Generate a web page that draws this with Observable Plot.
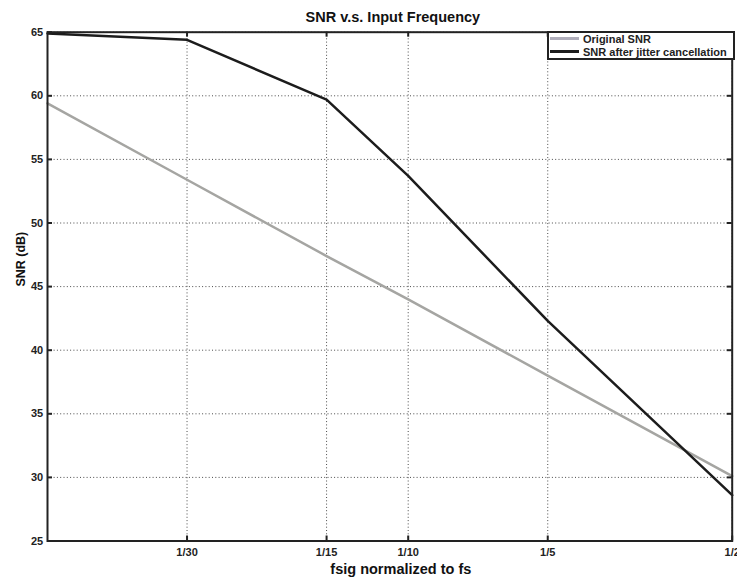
<!DOCTYPE html>
<html>
<head>
<meta charset="utf-8">
<script src="https://cdn.jsdelivr.net/npm/d3@7"></script>
<script src="https://cdn.jsdelivr.net/npm/@observablehq/plot@0.6"></script>
<style>
  html, body { margin: 0; padding: 0; background: #fff; overflow: hidden; }
  #wrap { position: relative; width: 737px; height: 581px; font-family: "Liberation Sans", Arial, sans-serif; }
  #wrap svg { display: block; }
  #legend {
    position: absolute; left: 546.5px; top: 30.5px; width: 184px; height: 25.5px;
    border: 2px solid #222; background: #fff; font-weight: bold; font-size: 11px;
    line-height: 13px; color: #222; white-space: nowrap;
  }
  #legend .row { height: 13px; }
  #legend .sw { display: inline-block; width: 29px; height: 3px; vertical-align: 3px; margin-left: 1.5px; margin-right: 4px; }
</style>
</head>
<body>
<div id="wrap"></div>
<script>
// ---- data ----
const freqs = [1/60, 1/30, 1/15, 1/10, 1/5, 1/2];
const originalSNR = [59.4, 53.4, 47.4, 44.0, 38.0, 30.1];
const cancelledSNR = [64.9, 64.4, 59.7, 53.7, 42.3, 28.6];
const seriesNames = ["Original SNR", "SNR after jitter cancellation"];
const seriesColors = ["#a5a5a2", "#1c1c1c"];
const legendSwatchColors = ["#b0aebb", "#1c1c1c"];
const xTickValues = [1/30, 1/15, 1/10, 1/5, 1/2];
const xTickLabels = ["1/30", "1/15", "1/10", "1/5", "1/2"];
const yTickValues = [25, 30, 35, 40, 45, 50, 55, 60, 65];
const titleText = "SNR v.s. Input Frequency";
const xLabelText = "fsig normalized to fs";
const yLabelText = "SNR (dB)";

// ---- layout ----
const W = 737, H = 581;
const mL = 47, mR = 5.3, mT = 31.7, mB = 40.5;
const innerW = W - mL - mR, innerH = H - mT - mB;
const tickLen = 5;

const rows = freqs.flatMap((f, i) => [
  {f, snr: originalSNR[i], series: seriesNames[0]},
  {f, snr: cancelledSNR[i], series: seriesNames[1]}
]);

const xLabelFor = d => {
  let best = 0;
  xTickValues.forEach((v, i) => { if (Math.abs(v - d) < Math.abs(xTickValues[best] - d)) best = i; });
  return xTickLabels[best];
};

const gridStyle = {stroke: "#4a4a4a", strokeOpacity: 1, strokeWidth: 1, strokeDasharray: "1,2.3"};

const chart = Plot.plot({
  width: W, height: H,
  marginLeft: mL, marginRight: mR, marginTop: mT, marginBottom: mB,
  style: {fontFamily: "'Liberation Sans', Arial, sans-serif", fontWeight: "bold", fontSize: "11px", color: "#222", background: "#fff"},
  x: {type: "log", domain: [1/60, 1/2]},
  y: {domain: [25, 65]},
  color: {domain: seriesNames, range: seriesColors},
  marks: [
    Plot.gridX(xTickValues, gridStyle),
    Plot.gridY(yTickValues, gridStyle),
    Plot.line(rows, {x: "f", y: "snr", z: "series", stroke: "series", strokeWidth: 2.5, strokeLinejoin: "round"}),
    // inward tick marks on all four sides
    Plot.tickX(xTickValues, {x: d => d, insetTop: innerH - tickLen, stroke: "#222", strokeWidth: 2}),
    Plot.tickX(xTickValues, {x: d => d, insetBottom: innerH - tickLen, stroke: "#222", strokeWidth: 2}),
    Plot.tickY(yTickValues, {y: d => d, insetRight: innerW - tickLen, stroke: "#222", strokeWidth: 2}),
    Plot.tickY(yTickValues, {y: d => d, insetLeft: innerW - tickLen, stroke: "#222", strokeWidth: 2}),
    Plot.axisX({ticks: xTickValues, tickFormat: xLabelFor, tickSize: 0, tickPadding: 6.8, label: null, fill: "#222"}),
    Plot.axisY({ticks: yTickValues, tickSize: 0, tickPadding: 4.3, label: null, fill: "#222"}),
    Plot.frame({stroke: "#222", strokeWidth: 2}),
    Plot.text([titleText], {frameAnchor: "top", lineAnchor: "bottom", dy: -10.2, dx: 3, fontSize: 14.5, fontWeight: "bold", fill: "#111"}),
    Plot.text([xLabelText], {frameAnchor: "bottom", lineAnchor: "bottom", dy: 32.8, dx: 11, fontSize: 14.5, fontWeight: "bold", fill: "#111"}),
    Plot.text([yLabelText], {frameAnchor: "left", dx: -27, rotate: -90, fontSize: 12.5, fontWeight: "bold", fill: "#111"})
  ]
});

const wrap = document.getElementById("wrap");
wrap.appendChild(chart);

// legend (inside the plot, top-right)
const legend = document.createElement("div");
legend.id = "legend";
seriesNames.forEach((name, i) => {
  const row = document.createElement("div");
  row.className = "row";
  const sw = document.createElement("span");
  sw.className = "sw";
  sw.style.background = legendSwatchColors[i];
  row.appendChild(sw);
  row.appendChild(document.createTextNode(name));
  legend.appendChild(row);
});
wrap.appendChild(legend);
</script>
</body>
</html>
